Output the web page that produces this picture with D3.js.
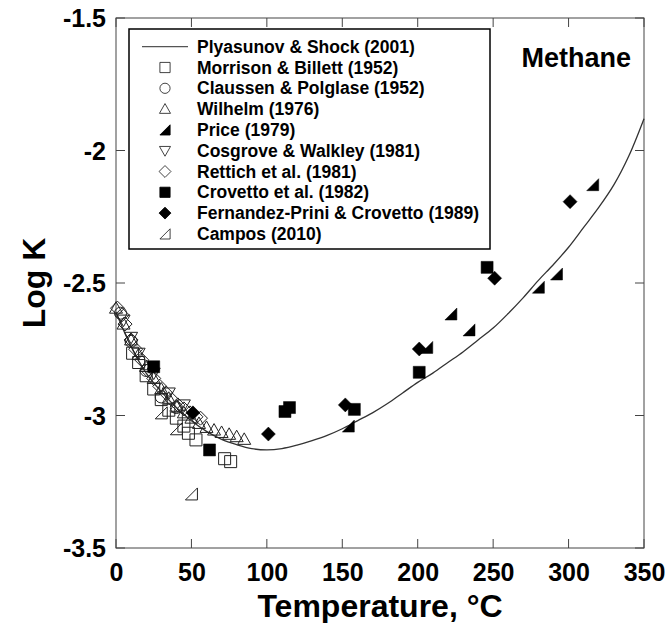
<!DOCTYPE html>
<html><head><meta charset="utf-8">
<script src="https://cdn.jsdelivr.net/npm/d3@7"></script>
<style>body{margin:0;background:#fff}svg{display:block}text{font-family:"Liberation Sans",Arial,sans-serif;font-weight:bold}</style>
</head><body><svg id="c" width="667" height="623"></svg>
<script>
const xTicks=[0,50,100,150,200,250,300,350];
const yTicks=[-1.5,-2,-2.5,-3,-3.5];
const yTickLabels=["-1.5","-2","-2.5","-3","-3.5"];
const legendNames=["Plyasunov & Shock (2001)","Morrison & Billett (1952)","Claussen & Polglase (1952)","Wilhelm (1976)","Price (1979)","Cosgrove & Walkley (1981)","Rettich et al. (1981)","Crovetto et al. (1982)","Fernandez-Prini & Crovetto (1989)","Campos (2010)"];
const curveT=[0,10,20,30,40,50,60,70,80,90,100,110,120,130,140,150,160,170,180,190,200,210,220,230,240,250,260,270,280,290,300,310,320,330,340,350];
const curveV=[-2.61,-2.74,-2.84,-2.91,-2.97,-3.02,-3.06,-3.09,-3.11,-3.125,-3.13,-3.125,-3.112,-3.095,-3.075,-3.05,-3.02,-2.99,-2.955,-2.915,-2.875,-2.84,-2.80,-2.76,-2.715,-2.67,-2.615,-2.555,-2.49,-2.43,-2.365,-2.29,-2.215,-2.13,-2.02,-1.88];
const morrisonT=[11,15,20,25,30,35,40,45,48,53,72,76];
const morrisonV=[-2.765,-2.80,-2.85,-2.90,-2.94,-2.98,-3.01,-3.04,-3.067,-3.092,-3.163,-3.174];
const claussenT=[3,10,20,30,40];
const claussenV=[-2.614,-2.72,-2.83,-2.93,-2.97];
const wilhelmT=[0,5,10,15,20,25,30,35,40,45,50,55,60,65,70,75,80,85];
const wilhelmV=[-2.595,-2.655,-2.715,-2.77,-2.815,-2.86,-2.90,-2.935,-2.965,-2.99,-3.01,-3.03,-3.045,-3.055,-3.064,-3.071,-3.08,-3.09];
const priceT=[154,206,222,234,280,292,316];
const priceV=[-3.04,-2.743,-2.617,-2.677,-2.516,-2.466,-2.129];
const cosgroveT=[5,10,15,25,35,45];
const cosgroveV=[-2.64,-2.705,-2.765,-2.84,-2.915,-2.96];
const rettichT=[1,4,6,10,13,17,21,25,29,33,37,41,45,49,53,56];
const rettichV=[-2.595,-2.62,-2.655,-2.715,-2.75,-2.79,-2.83,-2.86,-2.89,-2.915,-2.94,-2.96,-2.975,-2.99,-3.005,-3.01];
const crovettoT=[25,62,112,115,158,201,246];
const crovettoV=[-2.816,-3.13,-2.985,-2.97,-2.977,-2.837,-2.441];
const fernandezT=[51,101,152,201,251,301];
const fernandezV=[-2.99,-3.07,-2.96,-2.749,-2.482,-2.193];
const camposT=[30,40,50];
const camposV=[-2.99,-3.05,-3.296];

const svg=d3.select("#c");
const L=116,R=644,T=18,B=548;
const x=d3.scaleLinear().domain([0,350]).range([L,R]);
const y=d3.scaleLinear().domain([-3.5,-1.5]).range([B,T]);
const ax="#444";
const g=svg.append("g");
// frame
g.append("rect").attr("x",L).attr("y",T).attr("width",R-L).attr("height",B-T).attr("fill","none").attr("stroke",ax).attr("stroke-width",1);
const tl=9;
const bx=d3.axisBottom(x).tickValues(xTicks).tickSize(0).tickPadding(0).tickFormat(d3.format("d"));
// ticks inward
xTicks.forEach(t=>{
  g.append("line").attr("x1",x(t)).attr("x2",x(t)).attr("y1",B).attr("y2",B-tl).attr("stroke",ax);
  g.append("line").attr("x1",x(t)).attr("x2",x(t)).attr("y1",T).attr("y2",T+tl).attr("stroke",ax);
});
yTicks.forEach(t=>{
  g.append("line").attr("x1",L).attr("x2",L+tl).attr("y1",y(t)).attr("y2",y(t)).attr("stroke",ax);
  g.append("line").attr("x1",R).attr("x2",R-tl).attr("y1",y(t)).attr("y2",y(t)).attr("stroke",ax);
});
const xa=svg.append("g").attr("transform",`translate(0,${B})`).call(bx);
xa.select(".domain").remove();
xa.selectAll("text").attr("font-size",25).attr("fill","#000").attr("dy",null).attr("y",33);
const la=d3.axisLeft(y).tickValues(yTicks).tickSize(0).tickPadding(0).tickFormat((d,i)=>yTickLabels[i]);
const ya=svg.append("g").attr("transform",`translate(${L},0)`).call(la);
ya.select(".domain").remove();
ya.selectAll("text").attr("font-size",25).attr("fill","#000").attr("x",-10).attr("dy","0.35em");
svg.selectAll(".tick text").style("font-family",'"Liberation Sans",Arial,sans-serif').style("font-weight","bold");

// titles
svg.append("text").attr("x",(L+R)/2).attr("y",617).attr("text-anchor","middle").attr("font-size",32).text("Temperature, °C");
svg.append("text").attr("transform",`translate(45,${(T+B)/2}) rotate(-90)`).attr("text-anchor","middle").attr("font-size",32).text("Log K");
svg.append("text").attr("x",631).attr("y",67).attr("text-anchor","end").attr("font-size",27).text("Methane");

// curve
const line=d3.line().x(d=>x(d[0])).y(d=>y(d[1])).curve(d3.curveCatmullRom);
svg.append("path").datum(curveT.map((t,i)=>[t,curveV[i]])).attr("d",line).attr("fill","none").attr("stroke","#333").attr("stroke-width",1.3);

// symbols
const s=6;
const shapes={
  square:(o)=>`M${-s},${-s}H${s}V${s}H${-s}Z`,
  circle:(o)=>`M${s},0A${s},${s} 0 1,1 ${-s},0A${s},${s} 0 1,1 ${s},0Z`,
  up:(o)=>`M0,${-s-0.5}L${s+0.5},${s-1}L${-s-0.5},${s-1}Z`,
  down:(o)=>`M0,${s+0.5}L${s+0.5},${-s+1}L${-s-0.5},${-s+1}Z`,
  diamond:(o)=>`M0,${-s-1}L${s+1},0L0,${s+1}L${-s-1},0Z`,
  rtri:(o)=>`M${s},${-s}L${s},${s}L${-s},${s}Z`
};
const sets=[
  {T:morrisonT,V:morrisonV,sh:"square",fill:"none"},
  {T:claussenT,V:claussenV,sh:"circle",fill:"none"},
  {T:wilhelmT,V:wilhelmV,sh:"up",fill:"none"},
  {T:cosgroveT,V:cosgroveV,sh:"down",fill:"none"},
  {T:rettichT,V:rettichV,sh:"diamond",fill:"none"},
  {T:camposT,V:camposV,sh:"rtri",fill:"none"},
  {T:priceT,V:priceV,sh:"rtri",fill:"#000"},
  {T:crovettoT,V:crovettoV,sh:"square",fill:"#000"},
  {T:fernandezT,V:fernandezV,sh:"diamond",fill:"#000"}
];
sets.forEach(st=>{
  svg.append("g").selectAll("path").data(st.T.map((t,i)=>[t,st.V[i]])).join("path")
    .attr("transform",d=>`translate(${x(d[0])},${y(d[1])})`).attr("d",shapes[st.sh]())
    .attr("fill",st.fill).attr("stroke",st.fill==="none"?"#222":"#000").attr("stroke-width",st.fill==="none"?1:0.5);
});

// legend
const lg=svg.append("g");
lg.append("rect").attr("x",129).attr("y",29).attr("width",361).attr("height",220).attr("fill","#fff").attr("stroke","#000").attr("stroke-width",1.5);
const legSym=[null,["square","none"],["circle","none"],["up","none"],["rtri","#000"],["down","none"],["diamond","none"],["square","#000"],["diamond","#000"],["rtri","none"]];
legendNames.forEach((n,i)=>{
  const yy=46.7+i*20.8;
  if(i===0){lg.append("line").attr("x1",142).attr("x2",188).attr("y1",yy).attr("y2",yy).attr("stroke","#555").attr("stroke-width",1.2);}
  else{
    const sc=0.85;
    lg.append("path").attr("transform",`translate(165,${yy}) scale(${sc})`).attr("d",shapes[legSym[i][0]]())
      .attr("fill",legSym[i][1]).attr("stroke",legSym[i][1]==="none"?"#222":"#000").attr("stroke-width",1);
  }
  lg.append("text").attr("x",197).attr("y",yy).attr("dy","0.35em").attr("font-size",17.5).text(n);
});
</script></body></html>
